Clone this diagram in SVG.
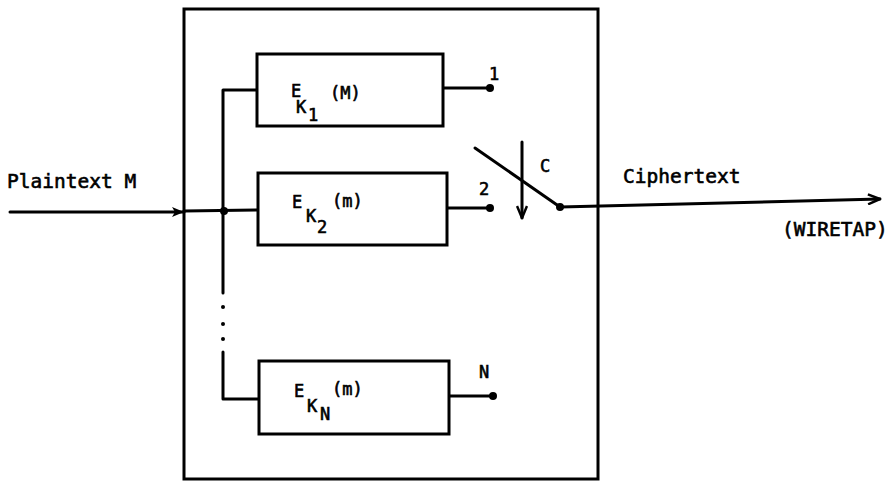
<svg xmlns="http://www.w3.org/2000/svg" width="891" height="483" viewBox="0 0 891 483">
<defs>
<style>
.ln{stroke:#000;stroke-width:3;fill:none;stroke-linecap:round;stroke-linejoin:round}
.bx{stroke:#000;stroke-width:3;fill:#fff}
.t{font-family:"DejaVu Sans Mono","Liberation Mono",monospace;fill:#000;stroke:#000;stroke-width:0.6}
.lab{font-size:19.5px}
.e{font-size:17px}
.s{font-size:17px}
.dot{fill:#000}
</style>
<marker id="open" viewBox="0 0 14 12" refX="13" refY="6" markerWidth="14" markerHeight="12" markerUnits="userSpaceOnUse" orient="auto">
<path d="M1,1 L13,6 L1,11" fill="none" stroke="#000" stroke-width="2.5"/>
</marker>
<marker id="solid" viewBox="0 0 14 12" refX="13" refY="6" markerWidth="14" markerHeight="12" markerUnits="userSpaceOnUse" orient="auto">
<path d="M1,1 L13,6 L1,11 L4,6 Z" fill="#000"/>
</marker>
</defs>
<rect width="891" height="483" fill="#fff"/>
<g id="outer-box"><rect class="bx" x="184" y="9" width="414" height="470" fill="none"/></g>
<g id="connectors">
<path class="ln" d="M10,212 L184,212" marker-end="url(#solid)"/>
<path class="ln" d="M184,211 L258,210"/>
<path class="ln" d="M257,90 L223,90 L223,293"/>
<path class="ln" d="M223,352 L223,399 L259,399"/>
<circle class="dot" cx="223" cy="307" r="2"/>
<circle class="dot" cx="223" cy="324" r="2"/>
<circle class="dot" cx="223" cy="339" r="2"/>
<circle class="dot" cx="224" cy="211" r="4"/>
<path class="ln" d="M443,88 L490,88"/>
<circle class="dot" cx="490" cy="88" r="4"/>
<path class="ln" d="M447,208 L490,208"/>
<circle class="dot" cx="490" cy="208" r="4"/>
<path class="ln" d="M449,396 L493,396"/>
<circle class="dot" cx="493" cy="396" r="4"/>
<path class="ln" d="M475,148 L560,207"/>
<circle class="dot" cx="560" cy="207" r="4"/>
<path class="ln" d="M522,142 L522,218" marker-end="url(#open)"/>
<path class="ln" d="M560,207 L880,199" marker-end="url(#open)"/>
</g>
<g id="box1">
<rect class="bx" x="257" y="54" width="186" height="72"/>
<text class="t e" x="291" y="97">E</text>
<text class="t s" x="296" y="113">K</text>
<text class="t s" x="308" y="121">1</text>
<text class="t e" x="330" y="99">(M)</text>
</g>
<g id="box2">
<rect class="bx" x="258" y="173" width="189" height="72"/>
<text class="t e" x="292" y="208">E</text>
<text class="t s" x="306" y="222">K</text>
<text class="t s" x="317" y="233">2</text>
<text class="t e" x="332" y="207">(m)</text>
</g>
<g id="boxN">
<rect class="bx" x="259" y="361" width="190" height="73"/>
<text class="t e" x="294" y="397">E</text>
<text class="t s" x="307" y="412">K</text>
<text class="t s" x="320" y="420">N</text>
<text class="t e" x="332" y="395">(m)</text>
</g>
<g id="labels">
<text class="t lab" x="7" y="188">Plaintext M</text>
<text class="t lab" x="623" y="183">Ciphertext</text>
<text class="t lab" x="782" y="236">(WIRETAP)</text>
<text class="t s" x="489" y="80">1</text>
<text class="t s" x="479" y="195">2</text>
<text class="t s" x="479" y="378">N</text>
<text class="t s" x="540" y="172">C</text>
</g>
</svg>
